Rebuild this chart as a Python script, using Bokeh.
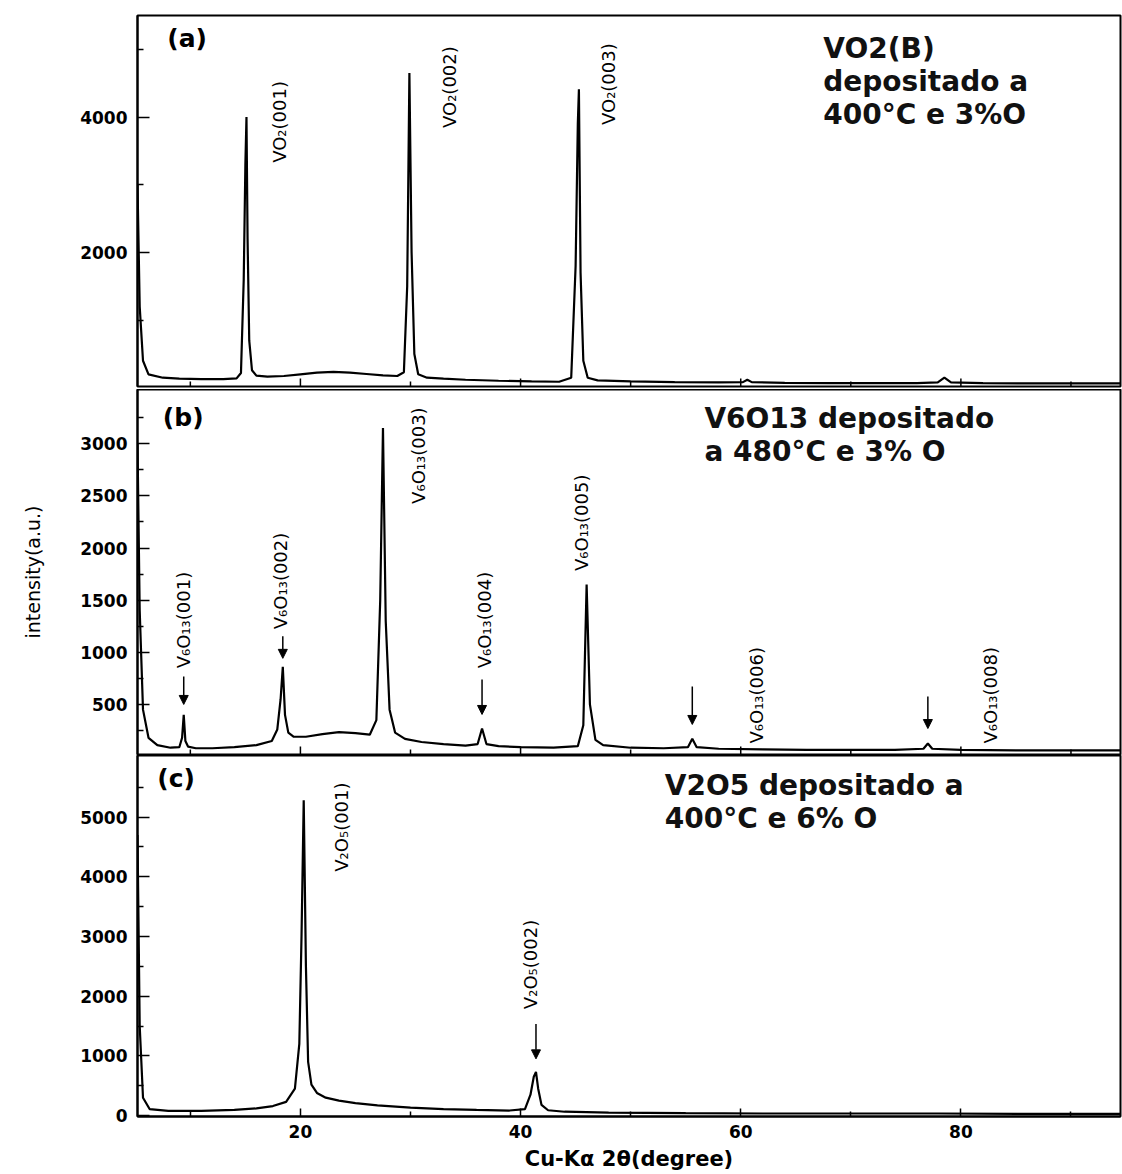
import math
from bokeh.plotting import figure
from bokeh.layouts import column
from bokeh.models import Range1d, FixedTicker, Arrow, NormalHead, ColumnDataSource
from bokeh.core.properties import value
from bokeh.embed import file_html
from bokeh.resources import INLINE

# ---------------- data ----------------
# (a) VO2(B) deposited at 400 C, 3% O
two_theta_a = [5.2, 5.4, 5.7, 6.2, 7.5, 9, 11, 13, 14.2, 14.6, 14.85, 15.0, 15.1, 15.2, 15.35,
               15.6, 16.0, 17, 18.5, 20, 21.5, 23, 24.5, 26, 27.5, 28.8, 29.4, 29.7, 29.9, 30.1,
               30.35, 30.7, 31.5, 33, 35, 38, 41, 43.5, 44.6, 45.0, 45.2, 45.3, 45.45, 45.7, 46.1,
               47, 50, 54, 58, 60.2, 60.6, 61.0, 64, 68, 72, 76, 77.9, 78.5, 79.1, 82, 86, 90, 94.5]
intensity_a = [3000, 1200, 400, 200, 150, 135, 130, 130, 140, 220, 1600, 3300, 4000, 2200, 700,
               260, 180, 165, 175, 200, 225, 235, 225, 205, 185, 175, 230, 1500, 4650, 2000,
               500, 200, 150, 135, 120, 105, 95, 90, 150, 1800, 3900, 4410, 1700, 400, 150,
               110, 95, 85, 80, 85, 120, 85, 75, 70, 70, 70, 80, 150, 80, 70, 65, 65, 65]

# (b) V6O13 deposited at 480 C, 3% O
two_theta_b = [5.2, 5.4, 5.7, 6.2, 7.0, 8.2, 9.0, 9.25, 9.4, 9.55, 9.8, 10.5, 12, 14, 16,
               17.4, 17.9, 18.2, 18.4, 18.6, 18.9, 19.4, 20.5, 22, 23.5, 25, 26.3, 26.9, 27.25, 27.5,
               27.75, 28.1, 28.6, 29.5, 31, 33, 35, 36.1, 36.5, 36.9, 38, 40, 43, 45.2, 45.7,
               46.0, 46.3, 46.8, 47.5, 50, 53, 55.2, 55.6, 56.0, 58, 62, 66, 70, 74, 76.6,
               77.0, 77.4, 80, 85, 90, 94.5]
intensity_b = [3000, 1400, 450, 180, 110, 85, 90, 180, 400, 150, 95, 80, 80, 90, 110,
               150, 260, 550, 860, 400, 230, 190, 190, 215, 235, 225, 210, 350, 1500, 3150,
               1300, 450, 230, 170, 140, 120, 105, 120, 270, 120, 100, 90, 85, 100, 300,
               1650, 500, 160, 110, 85, 80, 90, 170, 90, 75, 70, 65, 65, 65, 75,
               125, 75, 65, 60, 60, 60]

# (c) V2O5 deposited at 400 C, 6% O
two_theta_c = [5.2, 5.4, 5.7, 6.3, 8, 11, 14, 16, 17.5, 18.7, 19.5, 19.9, 20.1, 20.3, 20.5,
               20.7, 21.0, 21.5, 22.3, 23.5, 25, 27, 30, 33, 36, 39, 40.4, 40.9, 41.2, 41.4,
               41.6, 41.9, 42.5, 44, 48, 55, 62, 70, 78, 86, 94.5]
intensity_c = [4700, 1500, 300, 110, 80, 80, 95, 120, 160, 230, 450, 1200, 3000, 5280, 2500,
               900, 520, 380, 300, 250, 210, 170, 135, 110, 95, 85, 110, 350, 650, 730,
               450, 180, 90, 65, 50, 40, 35, 35, 35, 30, 30]

peak_labels_a = ["VO\u2082(001)", "VO\u2082(002)", "VO\u2082(003)"]
peak_labels_b = ["V\u2086O\u2081\u2083(001)", "V\u2086O\u2081\u2083(002)", "V\u2086O\u2081\u2083(003)",
                 "V\u2086O\u2081\u2083(004)", "V\u2086O\u2081\u2083(005)", "V\u2086O\u2081\u2083(006)",
                 "V\u2086O\u2081\u2083(008)"]
peak_labels_c = ["V\u2082O\u2085(001)", "V\u2082O\u2085(002)"]

panel_tags = ["(a)", "(b)", "(c)"]
panel_notes = ["VO2(B)\ndepositado a\n400\u00b0C e 3%O",
               "V6O13 depositado\na 480\u00b0C e 3% O",
               "V2O5 depositado a\n400\u00b0C e 6% O"]

x_major = [20, 40, 60, 80]
x_minor = [10, 30, 50, 70, 90]
y_major_a = [2000, 4000]
y_minor_a = [1000, 3000, 5000]
y_major_b = [500, 1000, 1500, 2000, 2500, 3000]
y_minor_b = [250, 750, 1250, 1750, 2250, 2750, 3250]
y_major_c = [0, 1000, 2000, 3000, 4000, 5000]
y_minor_c = [500, 1500, 2500, 3500, 4500, 5500]

# ---------------- layout / styling ----------------
FONT = "DejaVu Sans"
x_range = Range1d(5.2, 94.5)


def make_panel(y0, y1, fh, top, bottom, ymaj, ymin, last):
    p = figure(x_range=x_range, y_range=Range1d(y0, y1), frame_width=983, frame_height=fh,
               min_border_left=137, min_border_right=2, min_border_top=top,
               min_border_bottom=bottom, output_backend="svg", toolbar_location=None, tools="",
               x_axis_location=("below" if last else None))
    p.grid.visible = False
    p.background_fill_color = "white"
    p.border_fill_color = "white"
    p.outline_line_color = "black"
    p.outline_line_width = 2
    ya = p.yaxis[0]
    ya.ticker = FixedTicker(ticks=ymaj, minor_ticks=ymin)
    ya.axis_line_width = 2
    ya.major_tick_in = 12
    ya.major_tick_out = 0
    ya.minor_tick_in = 6
    ya.minor_tick_out = 0
    ya.major_tick_line_width = 1.5
    ya.minor_tick_line_width = 1.5
    ya.major_label_text_font = FONT
    ya.major_label_text_font_style = "bold"
    ya.major_label_text_font_size = "17px"
    ya.major_label_text_color = "black"
    ya.major_label_standoff = 10
    if last:
        xa = p.xaxis[0]
        xa.ticker = FixedTicker(ticks=x_major, minor_ticks=x_minor)
        xa.axis_line_width = 2
        xa.major_tick_in = 8
        xa.major_tick_out = 0
        xa.minor_tick_in = 5
        xa.minor_tick_out = 0
        xa.major_tick_line_width = 1.5
        xa.minor_tick_line_width = 1.5
        xa.major_label_text_font = FONT
        xa.major_label_text_font_style = "bold"
        xa.major_label_text_font_size = "17px"
        xa.major_label_text_color = "black"
        xa.major_label_standoff = 8
        xa.axis_label = "Cu-K\u03b1 2\u03b8(degree)"
        xa.axis_label_text_font = FONT
        xa.axis_label_text_font_style = "bold"
        xa.axis_label_text_font_size = "21px"
        xa.axis_label_text_color = "black"
        xa.axis_label_standoff = 6
    else:
        # inward ticks along the bottom edge, at the same tick values as the bottom axis
        span = y1 - y0
        p.segment(x0=x_major, y0=[y0] * len(x_major), x1=x_major,
                  y1=[y0 + 8 * span / fh] * len(x_major), line_color="black", line_width=1.5)
        p.segment(x0=x_minor, y0=[y0] * len(x_minor), x1=x_minor,
                  y1=[y0 + 5 * span / fh] * len(x_minor), line_color="black", line_width=1.5)
    return p


def peak_text(p, xs, ys, labels):
    p.text(x=xs, y=ys, text=labels, angle=math.pi / 2, text_font=value(FONT),
           text_font_size="18px", text_align="left", text_baseline="middle", text_color="black")


def note(p, x, y, txt):
    p.text(x=[x], y=[y], text=[txt], text_font=value(FONT), text_font_style="bold",
           text_font_size="28px", text_align="left", text_baseline="top",
           text_line_height=1.0, text_color="#111111")


def tag(p, x, y, txt):
    p.text(x=[x], y=[y], text=[txt], text_font=value(FONT), text_font_style="bold",
           text_font_size="25px", text_align="left", text_baseline="top", text_color="black")


def arrows(p, xs, ys0, ys1):
    src = ColumnDataSource(dict(xs=xs, ys0=ys0, ys1=ys1))
    p.add_layout(Arrow(end=NormalHead(size=9, fill_color="black", line_color="black"),
                       source=src, x_start="xs", y_start="ys0", x_end="xs", y_end="ys1",
                       line_color="black", line_width=1.5))


# panel (a)
pa = make_panel(20, 5500, 371, 15, 3, y_major_a, y_minor_a, False)
pa.line(two_theta_a, intensity_a, line_color="black", line_width=2.2)
peak_text(pa, [18.1, 33.5, 48.0], [3324, 3838, 3882], peak_labels_a)
note(pa, 67.5, 5250, panel_notes[0])
tag(pa, 7.9, 5380, panel_tags[0])

# panel (b)
pb = make_panel(20, 3520, 365, 0, 1, y_major_b, y_minor_b, False)
pb.line(two_theta_b, intensity_b, line_color="black", line_width=2.2)
peak_text(pb, [9.4, 18.2, 30.7, 36.7, 45.5, 61.4, 82.7],
          [846, 1221, 2423, 846, 1779, 125, 125], peak_labels_b)
arrows(pb, [9.4, 18.4, 36.5, 55.6, 77.0], [769, 1154, 740, 673, 577], [500, 942, 404, 308, 269])
note(pb, 56.7, 3404, panel_notes[1])
tag(pb, 7.5, 3390, panel_tags[1])
yb = pb.yaxis[0]
yb.axis_label = "intensity(a.u.)"
yb.axis_label_text_font = FONT
yb.axis_label_text_font_style = "normal"
yb.axis_label_text_font_size = "19px"
yb.axis_label_text_color = "black"
yb.axis_label_standoff = 33

# panel (c)
pc = make_panel(-15, 6030, 361, 0, 0, y_major_c, y_minor_c, True)
pc.line(two_theta_c, intensity_c, line_color="black", line_width=2.2)
peak_text(pc, [23.7, 40.9], [4083, 1783], peak_labels_c)
arrows(pc, [41.4], [1533], [950])
note(pc, 53.1, 5800, panel_notes[2])
tag(pc, 7.0, 5880, panel_tags[2])

layout = column(pa, pb, pc, spacing=0)
open("out.html", "w").write(file_html(layout, INLINE))
